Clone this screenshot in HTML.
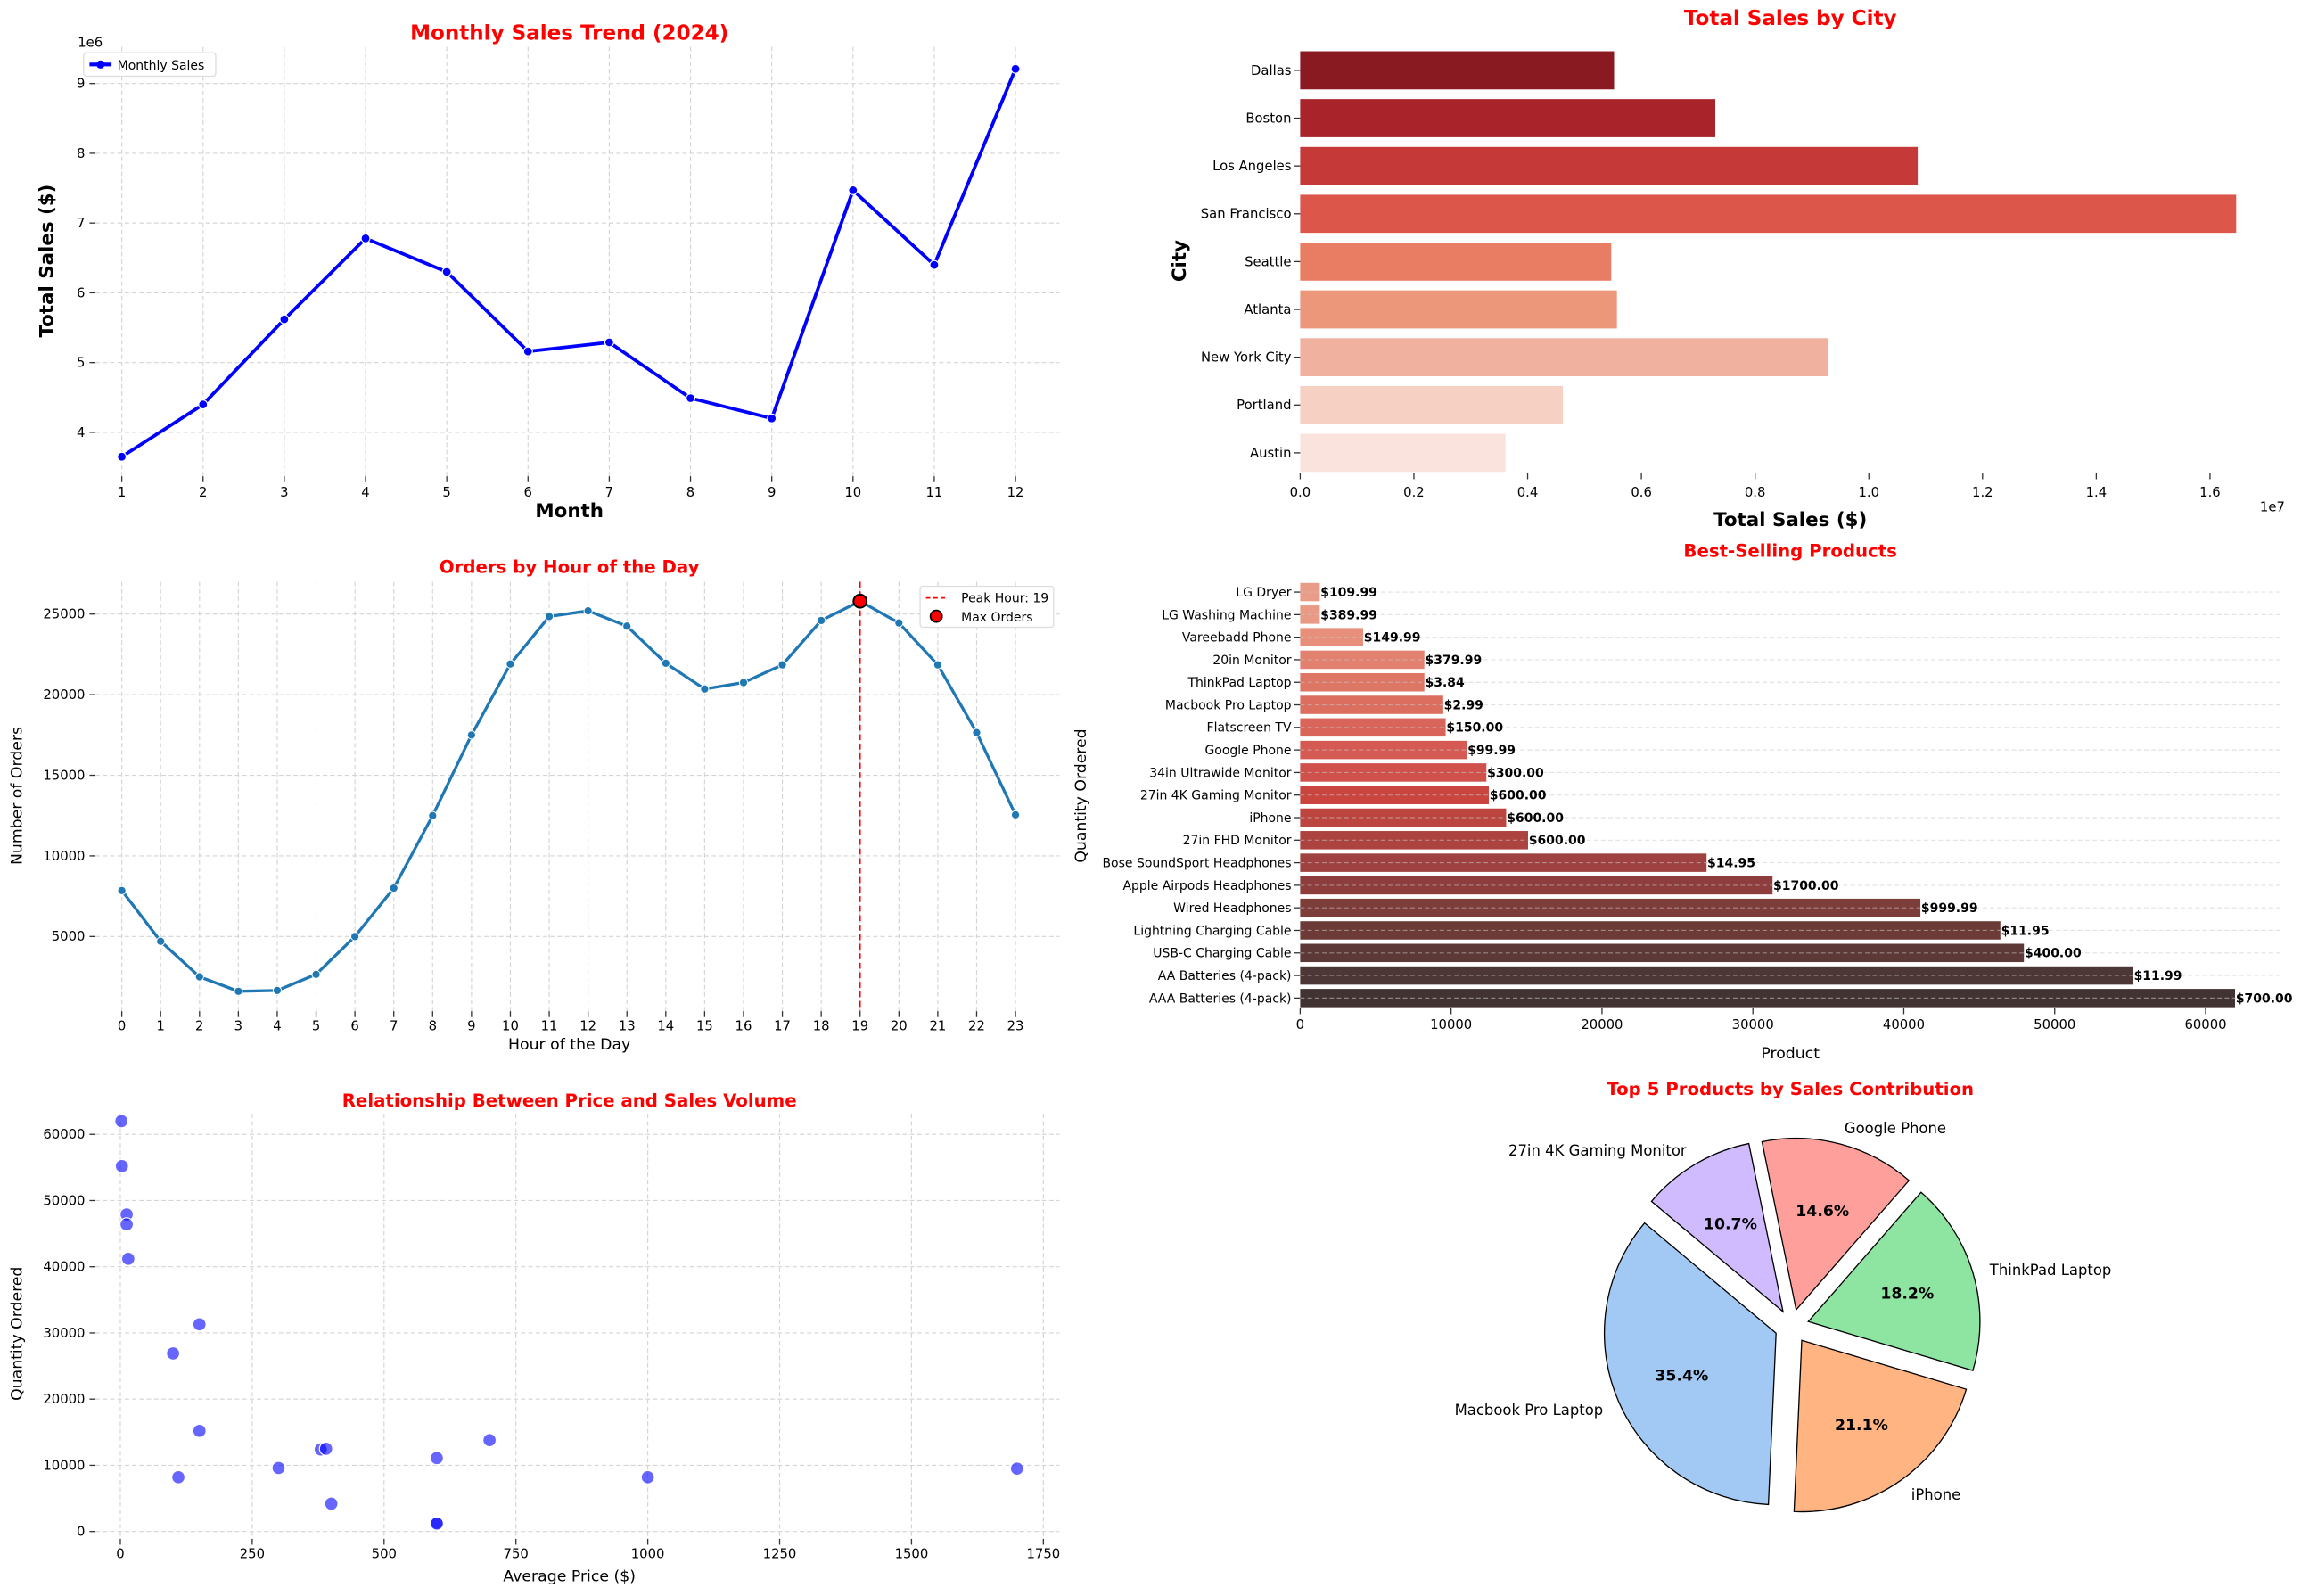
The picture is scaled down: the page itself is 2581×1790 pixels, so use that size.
<!DOCTYPE html>
<html><head><meta charset="utf-8"><style>
html,body{margin:0;padding:0;background:#fff;}
svg{display:block;font-family:"DejaVu Sans","Liberation Sans",sans-serif;}
</style></head><body>
<svg id="root" width="2581" height="1790" viewBox="0 0 1568 1089" preserveAspectRatio="none" xmlns="http://www.w3.org/2000/svg"></svg>
<script>
// ---- data ----
const months=[1,2,3,4,5,6,7,8,9,10,11,12];
const monthlySales=[3.65,4.4,5.62,6.78,6.3,5.16,5.29,4.49,4.2,7.47,6.4,9.21];
const monthYTicks=[4,5,6,7,8,9];
const cities=["Dallas","Boston","Los Angeles","San Francisco","Seattle","Atlanta","New York City","Portland","Austin"];
const citySales=[0.552,0.73,1.086,1.646,0.547,0.557,0.929,0.462,0.361];
const cityColors=["#891a22","#a8232a","#c53a39","#dc574a","#e97d63","#ec967a","#f0b29e","#f6d0c3","#f9e3dc"];
const cityXTicks=[0,0.2,0.4,0.6,0.8,1.0,1.2,1.4,1.6];
const hours=[0,1,2,3,4,5,6,7,8,9,10,11,12,13,14,15,16,17,18,19,20,21,22,23];
const hourOrders=[7850,4700,2500,1600,1650,2650,5000,8000,12500,17500,21900,24850,25200,24250,21950,20350,20750,21850,24600,25800,24450,21850,17650,12550];
const hourYTicks=[5000,10000,15000,20000,25000];
const products=["LG Dryer","LG Washing Machine","Vareebadd Phone","20in Monitor","ThinkPad Laptop","Macbook Pro Laptop","Flatscreen TV","Google Phone","34in Ultrawide Monitor","27in 4K Gaming Monitor","iPhone","27in FHD Monitor","Bose SoundSport Headphones","Apple Airpods Headphones","Wired Headphones","Lightning Charging Cable","USB-C Charging Cable","AA Batteries (4-pack)","AAA Batteries (4-pack)"];
const productQty=[1300,1300,4170,8230,8230,9480,9640,11040,12340,12500,13650,15100,26930,31300,41100,46400,47960,55200,61950];
const productPriceLabels=["$109.99","$389.99","$149.99","$379.99","$3.84","$2.99","$150.00","$99.99","$300.00","$600.00","$600.00","$600.00","$14.95","$1700.00","$999.99","$11.95","$400.00","$11.99","$700.00"];
const productColors=["#e99c87","#e99a85","#e78f7a","#e38170","#de7666","#dc6e60","#d8645a","#d45a53","#d0504b","#cb4540","#bd4540","#ad433f","#9f4140","#8c3d3c","#7d3d39","#6c3a37","#5c3837","#4d3636","#413332"];
const productXTicks=[0,10000,20000,30000,40000,50000,60000];
const scatterPrice=[2,3,12,12,15,150,100,150,110,300,380,390,400,600,600,600,700,1000,1700];
const scatterQty=[62000,55200,47900,46400,41200,31300,26900,15200,8200,9600,12400,12500,4200,11100,1300,1200,13800,8200,9500];
const scatterXTicks=[0,250,500,750,1000,1250,1500,1750];
const scatterYTicks=[0,10000,20000,30000,40000,50000,60000];
const pieLabels=["Macbook Pro Laptop","iPhone","ThinkPad Laptop","Google Phone","27in 4K Gaming Monitor"];
const pieValues=[35.4,21.1,18.2,14.6,10.7];
const pieColors=["#a1c9f4","#ffb482","#8de5a1","#ff9f9b","#d0bbff"];

const NS="http://www.w3.org/2000/svg";
const root=document.getElementById('root');
function mk(tag,attrs,parent,text){const e=document.createElementNS(NS,tag);for(const k in attrs)e.setAttribute(k,attrs[k]);if(text!==undefined)e.textContent=text;(parent||root).appendChild(e);return e;}
function lin(d0,d1,r0,r1){return v=>r0+(v-d0)*(r1-r0)/(d1-d0);}
function grp(name){const g=mk('g',{});return g;}
function txt(g,x,y,s,opt,name){opt=opt||{};const t=mk('text',{x:x,y:y,'font-size':opt.size||9,'text-anchor':opt.anchor||'middle',fill:opt.fill||'#000','font-weight':opt.bold?'bold':'normal'},g,s);if(opt.rot)t.setAttribute('transform','rotate(-90 '+x+' '+y+')');return t;}
const gridStyle={stroke:'#d4d4d4','stroke-width':0.7,'stroke-dasharray':'3,2'};
function gline(g,x1,y1,x2,y2,st){const l=mk('line',Object.assign({x1:x1,y1:y1,x2:x2,y2:y2},st||gridStyle),g);}

// ---- Chart 1: monthly ----
(function(){
const g=grp('monthly-sales-chart');
const x=lin(1,12,83,692),y=lin(4,9,295,57);
months.forEach(m=>{gline(g,x(m),32,x(m),325);mk('line',{x1:x(m),y1:325,x2:x(m),y2:329,stroke:'#333','stroke-width':0.8},g);txt(g,x(m),339,String(m),{},'x-tick-label');});
monthYTicks.forEach(v=>{gline(g,65,y(v),722,y(v));mk('line',{x1:65,y1:y(v),x2:61,y2:y(v),stroke:'#333','stroke-width':0.8},g);txt(g,58,y(v)+3,String(v),{anchor:'end'},'y-tick-label');});
const p=mk('polyline',{points:months.map((m,i)=>x(m)+','+y(monthlySales[i])).join(' '),fill:'none',stroke:'#0000ff','stroke-width':2.3},g);

months.forEach((m,i)=>{const c=mk('circle',{cx:x(m),cy:y(monthlySales[i]),r:3,fill:'#0000ff',stroke:'#fff','stroke-width':0.7},g);});
txt(g,388,27,'Monthly Sales Trend (2024)',{size:14,bold:true,fill:'#ff0000'},'chart-title');
txt(g,53,32,'1e6',{anchor:'start'},'y-axis-offset');
txt(g,36,178,'Total Sales ($)',{size:13,bold:true,rot:true},'y-axis-title');
txt(g,388,353,'Month',{size:13,bold:true},'x-axis-title');
const lg=grp('legend');g.appendChild(lg);
mk('rect',{x:57,y:36,width:90,height:16,fill:'#fff',stroke:'#ddd','stroke-width':0.8,rx:2},lg);
mk('line',{x1:61,y1:44,x2:76,y2:44,stroke:'#0000ff','stroke-width':2.5},lg);
mk('circle',{cx:68.5,cy:44,r:2.8,fill:'#0000ff'},lg);
txt(lg,80,47.5,'Monthly Sales',{anchor:'start',size:8.5},'legend-entry');
})();

// ---- Chart 2: city ----
(function(){
const g=grp('sales-by-city-chart');
const x=lin(0,1,886,886+387.5);
const y0=48,step=(309-48)/8,bh=26;
cities.forEach((c,i)=>{const yc=y0+i*step;const r=mk('rect',{x:x(0),y:yc-bh/2,width:x(citySales[i])-x(0),height:bh,fill:cityColors[i]},g);
mk('line',{x1:886,y1:yc,x2:882,y2:yc,stroke:'#333','stroke-width':0.8},g);txt(g,880,yc+3,c,{anchor:'end'},'y-tick-label');});
cityXTicks.forEach(v=>{mk('line',{x1:x(v),y1:323,x2:x(v),y2:327,stroke:'#333','stroke-width':0.8},g);txt(g,x(v),339,v.toFixed(1),{},'x-tick-label');});
txt(g,1220,17,'Total Sales by City',{size:14,bold:true,fill:'#ff0000'},'chart-title');
txt(g,1540,349,'1e7',{anchor:'start'},'x-axis-offset');
txt(g,808,178,'City',{size:13,bold:true,rot:true},'y-axis-title');
txt(g,1220,359,'Total Sales ($)',{size:13,bold:true},'x-axis-title');
})();

// ---- Chart 3: hourly ----
(function(){
const g=grp('orders-by-hour-chart');
const x=lin(0,23,83,692),y=lin(5000,25000,639,419);
hours.forEach(h=>{gline(g,x(h),397,x(h),690);mk('line',{x1:x(h),y1:690,x2:x(h),y2:694,stroke:'#333','stroke-width':0.8},g);txt(g,x(h),703,String(h),{},'x-tick-label');});
hourYTicks.forEach(v=>{gline(g,65,y(v),722,y(v));mk('line',{x1:65,y1:y(v),x2:61,y2:y(v),stroke:'#333','stroke-width':0.8},g);txt(g,58,y(v)+3,String(v),{anchor:'end'},'y-tick-label');});
const p=mk('polyline',{points:hours.map((h,i)=>x(h)+','+y(hourOrders[i])).join(' '),fill:'none',stroke:'#1f77b4','stroke-width':2},g);

hours.forEach((h,i)=>{const c=mk('circle',{cx:x(h),cy:y(hourOrders[i]),r:2.8,fill:'#1f77b4',stroke:'#fff','stroke-width':0.6},g);});
let mi=0;hourOrders.forEach((v,i)=>{if(v>hourOrders[mi])mi=i;});
const vl=mk('line',{x1:x(hours[mi]),y1:397,x2:x(hours[mi]),y2:690,stroke:'#ff0000','stroke-width':1,'stroke-dasharray':'4,2.5'},g);
const mc=mk('circle',{cx:x(hours[mi]),cy:y(hourOrders[mi]),r:4.5,fill:'#ff0000',stroke:'#000','stroke-width':1.2},g);
txt(g,388,391,'Orders by Hour of the Day',{size:12,bold:true,fill:'#ff0000'},'chart-title');
txt(g,15,543,'Number of Orders',{size:10.5,rot:true},'y-axis-title');
txt(g,388,716,'Hour of the Day',{size:10.5},'x-axis-title');
const lg=grp('legend');g.appendChild(lg);
mk('rect',{x:627,y:400,width:91,height:28,fill:'#fff',stroke:'#ddd','stroke-width':0.8,rx:2},lg);
mk('line',{x1:631,y1:408,x2:645,y2:408,stroke:'#ff0000','stroke-width':1,'stroke-dasharray':'3,2'},lg);
txt(lg,655,411,'Peak Hour: '+hours[mi],{anchor:'start',size:8.5},'legend-entry');
mk('circle',{cx:638,cy:420.5,r:4,fill:'#ff0000',stroke:'#000','stroke-width':1},lg);
txt(lg,655,424,'Max Orders',{anchor:'start',size:8.5},'legend-entry');
})();

// ---- Chart 4: products ----
(function(){
const g=grp('best-selling-products-chart');
const x=lin(0,60000,886,1503);
const y0=404,step=(681-404)/18,bh=12.5;
products.forEach((p,i)=>{const yc=y0+i*step;
const r=mk('rect',{x:x(0),y:yc-bh/2,width:x(productQty[i])-x(0),height:bh,fill:productColors[i]},g);
mk('line',{x1:886,y1:yc,x2:882,y2:yc,stroke:'#333','stroke-width':0.8},g);
txt(g,880,yc+3,p,{anchor:'end',size:8.5},'y-tick-label');});
products.forEach((p,i)=>{const yc=y0+i*step;gline(g,886,yc,1555,yc,{stroke:'rgba(200,200,200,0.55)','stroke-width':0.7,'stroke-dasharray':'3,2'});});
products.forEach((p,i)=>{const yc=y0+i*step;txt(g,x(productQty[i])+0.5,yc+3,productPriceLabels[i],{anchor:'start',size:8.5,bold:true},'price-label');});
productXTicks.forEach(v=>{mk('line',{x1:x(v),y1:688,x2:x(v),y2:692,stroke:'#333','stroke-width':0.8},g);txt(g,x(v),702,String(v),{},'x-tick-label');});
txt(g,1220,380,'Best-Selling Products',{size:12,bold:true,fill:'#ff0000'},'chart-title');
txt(g,740,543,'Quantity Ordered',{size:10.5,rot:true},'y-axis-title');
txt(g,1220,722,'Product',{size:10.5},'x-axis-title');
})();

// ---- Chart 5: scatter ----
(function(){
const g=grp('price-vs-volume-chart');
const x=lin(0,1750,82,711),y=lin(0,60000,1045,774);
scatterXTicks.forEach(v=>{gline(g,x(v),760,x(v),1050);mk('line',{x1:x(v),y1:1050,x2:x(v),y2:1054,stroke:'#333','stroke-width':0.8},g);txt(g,x(v),1063,String(v),{},'x-tick-label');});
scatterYTicks.forEach(v=>{gline(g,65,y(v),722,y(v));mk('line',{x1:65,y1:y(v),x2:61,y2:y(v),stroke:'#333','stroke-width':0.8},g);txt(g,58,y(v)+3,String(v),{anchor:'end'},'y-tick-label');});
scatterPrice.forEach((p,i)=>{const c=mk('circle',{cx:x(p),cy:y(scatterQty[i]),r:4.5,fill:'rgba(0,0,255,0.6)',stroke:'#fff','stroke-width':0.7},g);});
txt(g,388,755,'Relationship Between Price and Sales Volume',{size:12,bold:true,fill:'#ff0000'},'chart-title');
txt(g,15,910,'Quantity Ordered',{size:10.5,rot:true},'y-axis-title');
txt(g,388,1079,'Average Price ($)',{size:10.5},'x-axis-title');
})();

// ---- Chart 6: pie ----
(function(){
const g=grp('top5-pie-chart');
const cx=1221,cy=905,R=117,ex=0.1*R;
const tot=pieValues.reduce((a,b)=>a+b,0);
let a=140;
pieValues.forEach((v,i)=>{const sweep=v/tot*360;const a0=a,a1=a+sweep,mid=(a0+a1)/2*Math.PI/180;
const ox=cx+ex*Math.cos(mid),oy=cy-ex*Math.sin(mid);
const r0=a0*Math.PI/180,r1=a1*Math.PI/180;
const x0=ox+R*Math.cos(r0),y0=oy-R*Math.sin(r0),x1=ox+R*Math.cos(r1),y1=oy-R*Math.sin(r1);
const d='M'+ox+','+oy+' L'+x0+','+y0+' A'+R+','+R+' 0 '+(sweep>180?1:0)+' 0 '+x1+','+y1+' Z';
const pth=mk('path',{d:d,fill:pieColors[i],stroke:'#000','stroke-width':0.8},g);
const lx=cx+1.2*R*Math.cos(mid),ly=cy-1.2*R*Math.sin(mid);
const anc=Math.cos(mid)<0?'end':'start';
txt(g,lx,ly+4,pieLabels[i],{anchor:anc,size:10},'pie-label');
txt(g,ox+0.6*R*Math.cos(mid),oy-0.6*R*Math.sin(mid)+4,v.toFixed(1)+'%',{size:10.5,bold:true},'pie-percent');
a=a1;});
txt(g,1220,747,'Top 5 Products by Sales Contribution',{size:12,bold:true,fill:'#ff0000'},'chart-title');
})();
</script>
</body></html>
